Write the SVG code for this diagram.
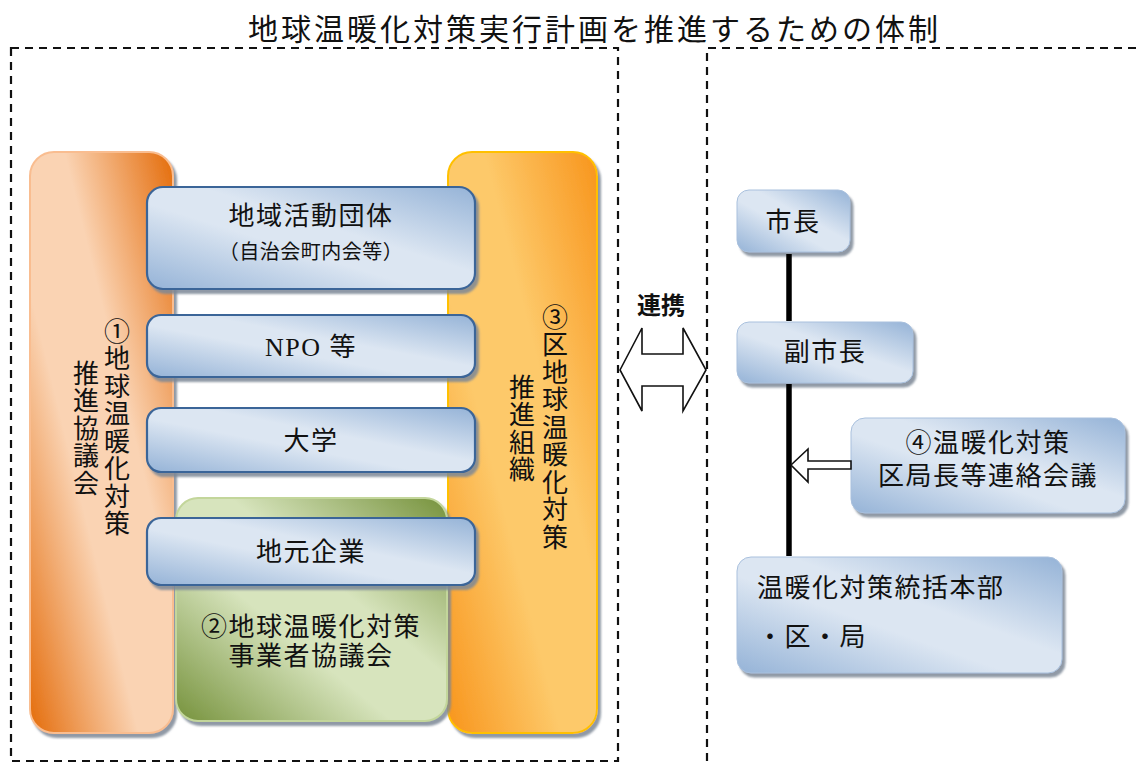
<svg xmlns="http://www.w3.org/2000/svg" width="1142" height="763" viewBox="0 0 1142 763">
<style>
.t{font-family:"Liberation Serif","Noto Sans CJK JP",serif;font-size:26px;fill:#111;text-anchor:middle;letter-spacing:1.5px}
.tl{font-family:"Liberation Serif","Noto Sans CJK JP",serif;font-size:26px;fill:#111;letter-spacing:1.5px}
.v{font-family:"Noto Sans CJK JP",sans-serif;font-size:26px;fill:#111;writing-mode:vertical-rl;text-orientation:upright;letter-spacing:1.5px}
.dash{fill:none;stroke:#111;stroke-width:2.2;stroke-dasharray:8,6}
.lb{fill:url(#gBlue);stroke:#3b6598;stroke-width:2.2;filter:url(#sh)}
.rb{fill:url(#gBlue);stroke:#a9c0dd;stroke-width:1;filter:url(#sh)}
.ar{fill:#fff;stroke:#111;stroke-width:1.6;stroke-linejoin:miter}
</style>
<defs>
<filter id="sh" x="-10%" y="-10%" width="125%" height="130%">
<feDropShadow dx="3" dy="4" stdDeviation="1.2" flood-color="#7d8796" flood-opacity="0.85"/>
</filter>
<linearGradient id="gBlue" x1="0" y1="1" x2="1" y2="0">
<stop offset="0" stop-color="#95b3d7"/><stop offset="0.42" stop-color="#dce6f2"/><stop offset="0.58" stop-color="#dce6f2"/><stop offset="1" stop-color="#95b3d7"/>
</linearGradient>
<linearGradient id="gOr1" x1="0" y1="1" x2="1" y2="0">
<stop offset="0" stop-color="#e46c0a"/><stop offset="0.38" stop-color="#fad3b3"/><stop offset="0.62" stop-color="#fad3b3"/><stop offset="1" stop-color="#e46c0a"/>
</linearGradient>
<linearGradient id="gOr2" x1="0" y1="1" x2="1" y2="0">
<stop offset="0" stop-color="#f8951c"/><stop offset="0.38" stop-color="#fdc96a"/><stop offset="0.62" stop-color="#fdc96a"/><stop offset="1" stop-color="#f8951c"/>
</linearGradient>
<linearGradient id="gGr" x1="0" y1="1" x2="1" y2="0">
<stop offset="0" stop-color="#76923c"/><stop offset="0.4" stop-color="#d7e4bd"/><stop offset="0.6" stop-color="#d7e4bd"/><stop offset="1" stop-color="#76923c"/>
</linearGradient>
</defs>
<rect width="1142" height="763" fill="#fff"/>
<text id="title" x="593" y="40" style="font-family:'Noto Sans CJK JP',sans-serif;font-size:30px;fill:#111;text-anchor:middle" textLength="690" lengthAdjust="spacing">地球温暖化対策実行計画を推進するための体制</text>
<g id="frames">
<rect class="dash" x="11" y="48" width="607" height="713"/>
<path class="dash" d="M707 761 V48 H1142"/>
</g>
<g id="n1">
<rect x="30" y="152" width="143" height="581" rx="24" fill="url(#gOr1)" stroke="#f9bd90" stroke-width="2" filter="url(#sh)"/>
<text class="v" x="117" y="318">①地球温暖化対策</text>
<text class="v" x="86" y="360">推進協議会</text>
</g>
<g id="n3">
<rect x="448" y="152" width="149" height="581" rx="24" fill="url(#gOr2)" stroke="#ffc000" stroke-width="2" filter="url(#sh)"/>
<text class="v" x="555" y="304">③区地球温暖化対策</text>
<text class="v" x="522" y="374">推進組織</text>
</g>
<g id="n2">
<rect x="176" y="498" width="271" height="223" rx="22" fill="url(#gGr)" stroke="#c3d69b" stroke-width="2" filter="url(#sh)"/>
<text class="t" x="311" y="636">②地球温暖化対策</text>
<text class="t" x="311" y="665">事業者協議会</text>
</g>
<g id="a1">
<rect class="lb" x="147" y="187" width="328" height="102" rx="16"/>
<text class="t" x="311" y="225">地域活動団体</text>
<text class="t" x="311" y="259" style="font-size:20px;letter-spacing:0.5px">（自治会町内会等）</text>
</g>
<g id="a2">
<rect class="lb" x="147" y="315" width="328" height="62" rx="14"/>
<text class="t" x="311" y="356">NPO 等</text>
</g>
<g id="a3">
<rect class="lb" x="147" y="408" width="328" height="64" rx="14"/>
<text class="t" x="311" y="450">大学</text>
</g>
<g id="a4">
<rect class="lb" x="147" y="518" width="328" height="67" rx="14"/>
<text class="t" x="311" y="561">地元企業</text>
</g>
<g id="b1">
<rect class="rb" x="737" y="190" width="113" height="62" rx="12"/>
<text class="t" x="793" y="231">市長</text>
</g>
<g id="b2">
<rect class="rb" x="737" y="322" width="176" height="61" rx="12"/>
<text class="t" x="825" y="361">副市長</text>
</g>
<g id="b4">
<rect class="rb" x="851" y="418" width="274" height="95" rx="14"/>
<text class="t" x="988" y="452">④温暖化対策</text>
<text class="t" x="988" y="485">区局長等連絡会議</text>
</g>
<g id="b3">
<rect class="rb" x="737" y="557" width="325" height="116" rx="14"/>
<text class="tl" x="757" y="597">温暖化対策統括本部</text>
<text class="tl" x="757" y="646">・区・局</text>
</g>
<g id="connectors">
<line x1="789" y1="254" x2="789" y2="321" stroke="#000" stroke-width="5.5"/>
<line x1="789" y1="384" x2="789" y2="556" stroke="#000" stroke-width="5.5"/>
<path class="ar" d="M791 465 L808 449 L808 461 L851 461 L851 469 L808 469 L808 482 Z"/>
<path class="ar" d="M620 370 L642 328 L642 354 L683 354 L683 328 L706 370 L683 411 L683 386 L642 386 L642 411 Z"/>
<text x="661" y="314" style="font-family:'Noto Sans CJK JP',sans-serif;font-size:24px;font-weight:bold;fill:#111;text-anchor:middle">連携</text>
</g>
</svg>
